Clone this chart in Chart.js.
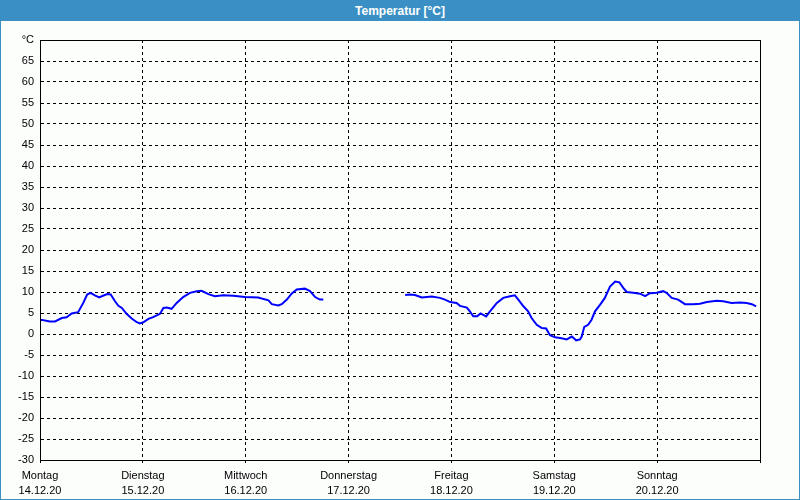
<!DOCTYPE html>
<html>
<head>
<meta charset="utf-8">
<script src="https://cdn.jsdelivr.net/npm/chart.js@4"></script>
<style>
  body { margin: 0; background: #fff; }
  #frame { width: 800px; height: 500px; box-sizing: border-box; border: 1px solid #3a90c4; background: #fcfefc; }
  #title { height: 20px; background: #3a90c4; color: #fff; font: bold 12px "Liberation Sans", Arial, sans-serif; text-align: center; line-height: 20px; }
  #wrap { position: relative; width: 798px; height: 478px; }
</style>
</head>
<body>
<div id="frame">
  <div id="title">Temperatur [°C]</div>
  <div id="wrap"><canvas id="tempChart"></canvas></div>
</div>
<script>
// hours since Monday 00:00
const hours = [
  0, 0.2, 2.3, 3.5, 5.1, 6.2, 7.4, 8.9, 10.1, 11.0, 11.8, 12.8, 13.8, 14.7, 15.7, 16.5,
  17.5, 18.3, 19.1, 20.2, 21.4, 22.6, 23.3, 24.1, 25.3, 26.4, 28.0, 28.8, 29.6, 30.7,
  31.9, 33.4, 35.0, 36.6, 37.7, 39.3, 40.8, 42.8, 45.1, 47.8, 50.9, 53.3, 54.1, 55.6,
  56.4, 57.6, 58.7, 59.9, 61.8, 63.0, 64.2, 65.3, 66.1,
  75.0,
  85.2, 86.3, 87.5, 89.1, 91.4, 93.3, 94.5, 95.7, 97.2, 98.0, 99.6, 100.3, 101.1, 102.0,
  102.8, 104.1, 105.0, 106.6, 108.1, 109.7, 110.8, 111.6, 112.8, 113.9, 114.7, 115.9,
  117.1, 118.1, 119.0, 120.2, 121.7, 122.9, 124.1, 125.1, 126.0, 126.4, 127.0, 127.9,
  128.7, 129.5, 130.7, 131.8, 133.0, 134.2, 135.2, 136.1, 136.9, 138.4, 140.0, 141.2,
  142.3, 143.9, 145.4, 146.2, 147.4, 148.9, 150.5, 152.4, 154.0, 155.6, 157.9, 159.4,
  161.4, 163.3, 164.9, 166.1, 167.1
];
const temps = [
  3.5, 3.4, 3.0, 3.0, 3.8, 4.0, 4.9, 5.2, 7.4, 9.4, 9.8, 9.2, 8.7, 9.1, 9.5, 9.4,
  7.8, 6.7, 6.2, 4.8, 3.7, 2.8, 2.5, 2.8, 3.6, 4.0, 4.8, 6.2, 6.3, 6.0,
  7.4, 8.8, 9.8, 10.2, 10.3, 9.5, 9.0, 9.2, 9.1, 8.8, 8.7, 8.0, 7.1, 6.8,
  7.1, 8.2, 9.6, 10.6, 10.8, 10.2, 8.8, 8.2, 8.2,
  null,
  9.3, 9.4, 9.3, 8.7, 8.9, 8.6, 8.2, 7.6, 7.4, 6.7, 6.3, 5.4, 4.2, 4.2,
  4.9, 4.2, 5.4, 7.4, 8.6, 9.0, 9.2, 8.2, 6.6, 5.4, 3.8, 2.2,
  1.4, 1.3, -0.3, -0.8, -1.0, -1.3, -0.6, -1.5, -1.3, -0.6, 1.7, 2.2,
  3.4, 5.4, 7.0, 8.6, 11.3, 12.5, 12.3, 11.0, 10.0, 9.8, 9.6, 9.0,
  9.7, 9.8, 10.2, 9.8, 8.6, 8.2, 7.1, 7.1, 7.2, 7.6, 7.9, 7.8,
  7.4, 7.5, 7.4, 7.1, 6.6
];
const dayNames = ['Montag', 'Dienstag', 'Mittwoch', 'Donnerstag', 'Freitag', 'Samstag', 'Sonntag'];
const dayDates = ['14.12.20', '15.12.20', '16.12.20', '17.12.20', '18.12.20', '19.12.20', '20.12.20'];

const tickFont = { family: '"Liberation Sans", Arial, sans-serif', size: 11, lineHeight: 1.35 };

// solid frame round the plot area
const plotFrame = {
  id: 'plotFrame',
  afterDraw(chart) {
    const { ctx, chartArea: a } = chart;
    ctx.save();
    ctx.strokeStyle = '#000';
    ctx.lineWidth = 1;
    ctx.strokeRect(Math.round(a.left) + 0.5, Math.round(a.top) + 0.5,
      Math.round(a.right - a.left), Math.round(a.bottom - a.top));
    ctx.restore();
  }
};

new Chart(document.getElementById('tempChart').getContext('2d'), {
  type: 'line',
  data: {
    datasets: [{
      data: hours.map((h, i) => ({ x: h, y: temps[i] })),
      borderColor: '#0000ff',
      borderWidth: 2,
      pointRadius: 0,
      tension: 0,
      spanGaps: false
    }]
  },
  options: {
    responsive: true,
    maintainAspectRatio: false,
    animation: false,
    layout: { padding: { top: 19, right: 39, left: 0, bottom: 0 } },
    plugins: { legend: { display: false }, tooltip: { enabled: false } },
    scales: {
      x: {
        type: 'linear',
        min: 0,
        max: 168,
        afterFit(scale) { scale.height = 39; },
        ticks: {
          stepSize: 24,
          autoSkip: false,
          maxRotation: 0,
          padding: 6,
          color: '#000',
          font: tickFont,
          callback: v => {
            const d = Math.round(v / 24);
            return d < dayNames.length ? [dayNames[d], dayDates[d]] : '';
          }
        },
        grid: { color: '#000', tickLength: 3 },
        border: { display: true, color: '#000', dash: [3, 3] }
      },
      y: {
        min: -30,
        max: 70,
        afterFit(scale) { scale.width = 39; },
        ticks: {
          stepSize: 5,
          padding: 6,
          color: '#000',
          font: tickFont,
          callback: v => v === 70 ? '°C' : v
        },
        grid: { color: '#000', drawTicks: false },
        border: { display: true, color: '#000', dash: [3, 3] }
      }
    }
  },
  plugins: [plotFrame]
});
</script>
</body>
</html>
